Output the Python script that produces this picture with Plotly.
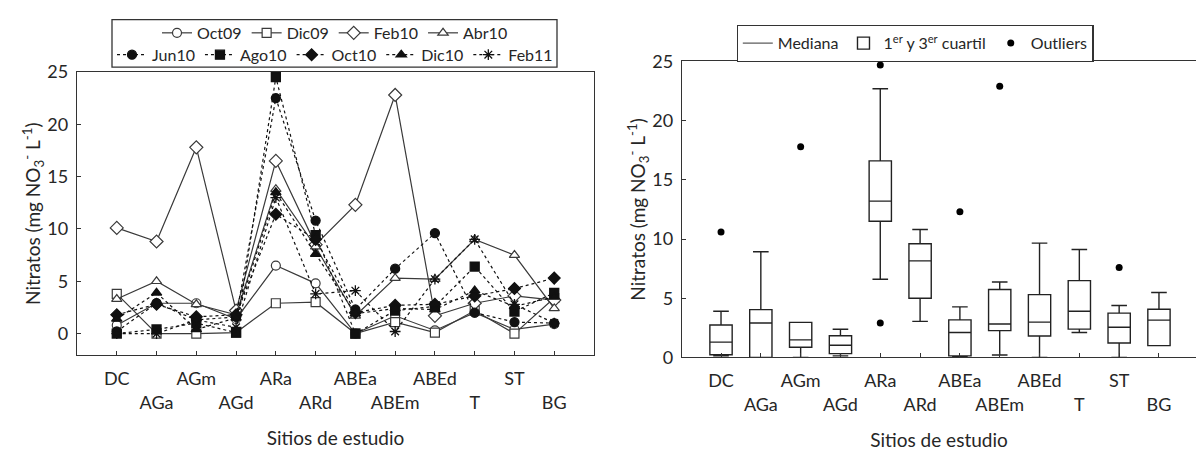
import plotly.graph_objects as go

# ---------------- data ----------------
sites = ["DC", "AGa", "AGm", "AGd", "ARa", "ARd", "ABEa", "ABEm", "ABEd", "T", "ST", "BG"]

# left chart: nitrate per sampling campaign (mg NO3- L-1)
oct09 = [0.8, 2.9, 2.9, 1.4, 6.5, 4.8, 0.0, 1.7, 0.3, 2.0, 0.4, 0.9]
dic09 = [3.8, 0.0, 0.0, 0.1, 2.9, 3.0, 0.0, 1.1, 0.1, 2.2, 0.0, 3.4]
feb10 = [10.1, 8.8, 17.8, 2.2, 16.5, 8.5, 12.3, 22.8, 1.7, 2.9, 3.6, 3.2]
abr10 = [3.3, 5.0, 2.8, 1.8, 13.8, 8.3, 1.7, 5.3, 5.2, 9.0, 7.5, 2.4]
jun10 = [0.2, 2.9, 1.3, 1.6, 22.5, 10.8, 2.3, 6.2, 9.6, 2.0, 1.1, 1.0]
ago10 = [0.0, 0.4, 1.0, 0.1, 24.5, 9.4, 0.0, 2.2, 2.6, 6.4, 2.1, 3.9]
oct10 = [1.8, 2.8, 1.6, 1.8, 11.4, 9.0, 2.0, 2.7, 2.8, 3.6, 4.3, 5.3]
dic10 = [1.4, 3.9, 0.4, 1.5, 13.5, 7.6, 1.9, 2.4, 2.3, 4.1, 2.6, 3.5]
feb11 = [0.0, 0.0, 1.3, 0.6, 13.0, 3.8, 4.1, 0.2, 5.2, 9.0, 2.8, 1.0]

# right chart: box statistics per site
q1 = [0.22, 0.0, 0.86, 0.32, 11.5, 5.0, 0.13, 2.26, 1.8, 2.39, 1.21, 0.99]
median = [1.29, 2.9, 1.48, 1.02, 13.2, 8.15, 2.1, 2.82, 2.98, 3.9, 2.55, 3.15]
q3 = [2.74, 4.03, 2.96, 1.83, 16.6, 9.6, 3.17, 5.73, 5.3, 6.48, 3.74, 4.06]
lowerfence = [0.13, 0.0, 0.0, 0.13, 6.6, 3.04, 0.05, 0.2, 0.0, 2.1, 0.0, 0.99]
upperfence = [3.9, 8.92, 2.96, 2.37, 22.7, 10.8, 4.27, 6.37, 9.65, 9.11, 4.38, 5.48]
outlier_sites = ["DC", "AGm", "ARa", "ARa", "ABEa", "ABEm", "ST"]
outlier_values = [10.6, 17.8, 24.7, 2.9, 12.3, 22.9, 7.6]

yticks = [0, 5, 10, 15, 20, 25]
# staggered tick labels (every second one on a lower line)
ticklabels = [s if i % 2 == 0 else "\u00a0<br>" + s for i, s in enumerate(sites)]

FONT = "Lato, 'Open Sans', sans-serif"
TXT = "#262626"
AX = "#333333"
W, H = 1196, 453

def px_x(p):
    return p / W

def px_y(p):
    return (H - p) / H

fig = go.Figure()

solid = [("Oct09", oct09, "circle"), ("Dic09", dic09, "square"),
         ("Feb10", feb10, "diamond"), ("Abr10", abr10, "triangle-up")]
dotted = [("Jun10", jun10, "circle"), ("Ago10", ago10, "square"),
          ("Oct10", oct10, "diamond"), ("Dic10", dic10, "triangle-up"),
          ("Feb11", feb11, "asterisk-open")]

for name, vals, sym in solid:
    fig.add_trace(go.Scatter(
        x=sites, y=vals, name=name, mode="lines+markers", legend="legend",
        line=dict(color="#3a3a3a", width=1.2),
        marker=dict(symbol=sym, size=10 if sym == "diamond" else 9,
                    color="white", line=dict(color="#3a3a3a", width=1.2)),
        xaxis="x", yaxis="y"))
for name, vals, sym in dotted:
    fig.add_trace(go.Scatter(
        x=sites, y=vals, name=name, mode="lines+markers", legend="legend2",
        line=dict(color="#111111", width=1.2, dash="dot"),
        marker=dict(symbol=sym, size=9, color="#111111",
                    line=dict(color="#111111", width=1.3)),
        xaxis="x", yaxis="y"))

# right chart
fig.add_trace(go.Scatter(x=[None], y=[None], mode="lines", name="Mediana",
                         line=dict(color="#333333", width=1), legend="legend3",
                         xaxis="x2", yaxis="y2"))
fig.add_trace(go.Box(
    x=sites, q1=q1, median=median, q3=q3, lowerfence=lowerfence,
    upperfence=upperfence, boxpoints=False, orientation="v",
    name="1<sup>er</sup> y 3<sup>er</sup> cuartil", legend="legend3",
    line=dict(color="#222222", width=1.4), fillcolor="white",
    whiskerwidth=0.7, xaxis="x2", yaxis="y2"))
fig.add_trace(go.Scatter(x=outlier_sites, y=outlier_values, mode="markers",
                         name="Outliers", legend="legend3",
                         marker=dict(color="black", size=7),
                         xaxis="x2", yaxis="y2"))

axis_common = dict(showline=True, linecolor=AX, linewidth=1.3, ticks="inside",
                   ticklen=4, tickcolor=AX, showgrid=False, zeroline=False,
                   tickfont=dict(family=FONT, size=18, color=TXT))

ytitle = "Nitratos (mg NO<sub>3</sub><sup>-</sup> L<sup>-1</sup>)"

fig.update_layout(
    width=W, height=H, margin=dict(l=0, r=0, t=0, b=0),
    paper_bgcolor="white", plot_bgcolor="white",
    font=dict(family=FONT, color=TXT),
    boxgap=0.2,
    xaxis=dict(domain=[px_x(77), px_x(594)], type="category", range=[-1, 12],
               tickmode="array", tickvals=sites, ticktext=ticklabels,
               tickangle=0, mirror=True, anchor="y", ticklabelstandoff=7,
               title=dict(text="Sitios de estudio", standoff=20,
                          font=dict(family=FONT, size=19, color=TXT)),
               **axis_common),
    yaxis=dict(domain=[px_y(361), px_y(63)], range=[-2.09, 25],
               tickvals=yticks, mirror=True, anchor="x", ticklabelstandoff=4,
               title=dict(text=ytitle, standoff=0,
                          font=dict(family=FONT, size=19, color=TXT)),
               **axis_common),
    xaxis2=dict(domain=[px_x(682), 1.0], type="category", range=[-0.98, 11.93],
                tickmode="array", tickvals=sites, ticktext=ticklabels,
                tickangle=0, mirror=True, anchor="y2", ticklabelstandoff=7,
                title=dict(text="Sitios de estudio", standoff=20,
                           font=dict(family=FONT, size=19, color=TXT)),
                **axis_common),
    yaxis2=dict(domain=[px_y(363), px_y(52)], range=[0, 25],
                tickvals=yticks, mirror=False, anchor="x2", ticklabelstandoff=4,
                title=dict(text=ytitle, standoff=0,
                           font=dict(family=FONT, size=19, color=TXT)),
                **axis_common),
    legend=dict(orientation="h", x=px_x(335), xanchor="center", y=px_y(22),
                yanchor="middle", bgcolor="rgba(0,0,0,0)", itemwidth=30,
                font=dict(family=FONT, size=16, color=TXT), traceorder="normal"),
    legend2=dict(orientation="h", x=px_x(335), xanchor="center", y=px_y(45),
                 yanchor="middle", bgcolor="rgba(0,0,0,0)", itemwidth=30,
                 font=dict(family=FONT, size=16, color=TXT), traceorder="normal"),
    legend3=dict(orientation="h", x=px_x(915), xanchor="center", y=px_y(33),
                 yanchor="middle", bgcolor="white", itemwidth=30,
                 bordercolor="#333333", borderwidth=1.3,
                 font=dict(family=FONT, size=16, color=TXT), traceorder="normal"),
    shapes=[dict(type="rect", xref="paper", yref="paper",
                 x0=px_x(112), x1=px_x(557), y0=px_y(58), y1=px_y(8),
                 line=dict(color="#333333", width=1.3))],
)

fig.write_html("out.html")
